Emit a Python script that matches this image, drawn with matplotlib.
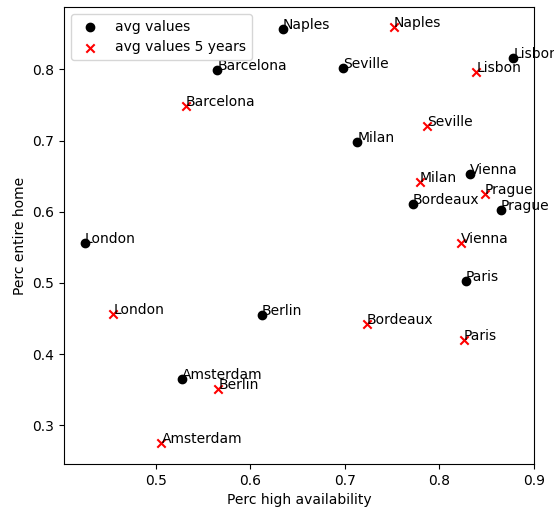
import matplotlib
matplotlib.use("Agg")
import matplotlib.pyplot as plt

cities = ["Naples", "Barcelona", "Seville", "Lisbon", "Milan", "Vienna",
          "Bordeaux", "Prague", "London", "Paris", "Berlin", "Amsterdam"]

avg_high_avail = [0.634, 0.565, 0.698, 0.878, 0.713, 0.832,
                  0.772, 0.865, 0.425, 0.828, 0.612, 0.528]
avg_entire_home = [0.857, 0.799, 0.802, 0.816, 0.698, 0.653,
                   0.611, 0.603, 0.556, 0.503, 0.455, 0.365]

avg5_high_avail = [0.752, 0.532, 0.787, 0.839, 0.779, 0.823,
                   0.723, 0.848, 0.455, 0.826, 0.566, 0.506]
avg5_entire_home = [0.859, 0.748, 0.721, 0.796, 0.642, 0.556,
                    0.443, 0.625, 0.456, 0.420, 0.351, 0.275]

fig = plt.figure(figsize=(5.54, 5.08), dpi=100)
ax = fig.add_axes([64/554, 1-464/508, (534-64)/554, (464-7)/508])

ax.scatter(avg_high_avail, avg_entire_home, color="black", marker="o", label="avg values")
ax.scatter(avg5_high_avail, avg5_entire_home, color="red", marker="x", label="avg values 5 years")

for c, x, y in zip(cities, avg_high_avail, avg_entire_home):
    ax.annotate(c, (x, y))
for c, x, y in zip(cities, avg5_high_avail, avg5_entire_home):
    ax.annotate(c, (x, y))

ax.set_xlim(0.4029, 0.9)
ax.set_ylim(0.2457, 0.8875)
ax.set_xticks([0.5, 0.6, 0.7, 0.8, 0.9])
ax.set_yticks([0.3, 0.4, 0.5, 0.6, 0.7, 0.8])
ax.set_xlabel("Perc high availability")
ax.set_ylabel("Perc entire home")
ax.legend(loc="upper left")

fig.savefig("out.png", dpi=100)
